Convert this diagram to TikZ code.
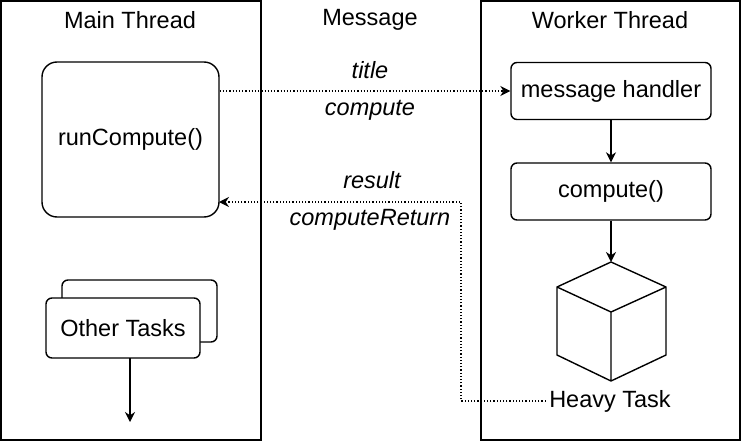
\documentclass[tikz,border=0pt]{standalone}
\usepackage{fontspec}
\setmainfont{Liberation Sans}
\usetikzlibrary{arrows.meta}
\begin{document}
\begin{tikzpicture}[x=1pt,y=-1pt,
  every node/.style={font=\fontsize{23.5}{26}\selectfont},
  box/.style={draw,line width=1.4pt,rounded corners=6pt,minimum width=200pt,minimum height=57pt},
  lane/.style={draw,line width=1.4pt},
  flow/.style={line width=1.4pt,-{Stealth[length=10pt,width=10pt]}},
  msg/.style={dotted,line width=1.2pt,-{Stealth[length=10pt,width=10pt]}},
  lbl/.style={font=\fontsize{23.5}{26}\selectfont\itshape}]
\useasboundingbox (0,0) rectangle (742,442);
\draw[lane] (1,1) rectangle (261,440);
\draw[lane] (481,1) rectangle (740,440);
\node (mt) at (130,20) {Main Thread};
\node (wt) at (610,20) {Worker Thread};
\node (ms) at (370,20) {Message};
\node[draw,line width=1.4pt,rounded corners=15pt,minimum width=177pt,minimum height=155pt] (rc) at (130.5,139.5) {runCompute()};
\draw[line width=1.4pt,rounded corners=6pt,fill=white] (62,280) rectangle (217,342);
\node[draw,line width=1.4pt,rounded corners=6pt,fill=white,minimum width=154pt,minimum height=60pt] (ot) at (123,328) {Other Tasks};
\coordinate (otend) at (130,422);
\draw[flow] (130,358) -- (otend);
\node[box] (mh) at (611,91) {message handler};
\node[box] (cp) at (611,191.5) {compute()};
\draw[line width=1.4pt,line join=round] (611,262) -- (666,287) -- (666,355) -- (611,381) -- (557,355) -- (557,287) -- cycle
  (557,287) -- (611,312) -- (666,287) (611,312) -- (611,381);
\coordinate (cube) at (611,262);
\node (ht) at (610,401) {Heavy Task};
\draw[flow] (mh) -- (cp);
\draw[flow] (cp) -- (cube);
\draw[msg] (rc.east |- mh) -- (mh.west);
\node[lbl] at (370,70) {title};
\node[lbl] at (370,110) {compute};
\draw[msg] (ht.west) -| (461,202) -- (219,202);
\node[lbl] at (372,180) {result};
\node[lbl] at (370,220) {computeReturn};
\end{tikzpicture}
\end{document}
